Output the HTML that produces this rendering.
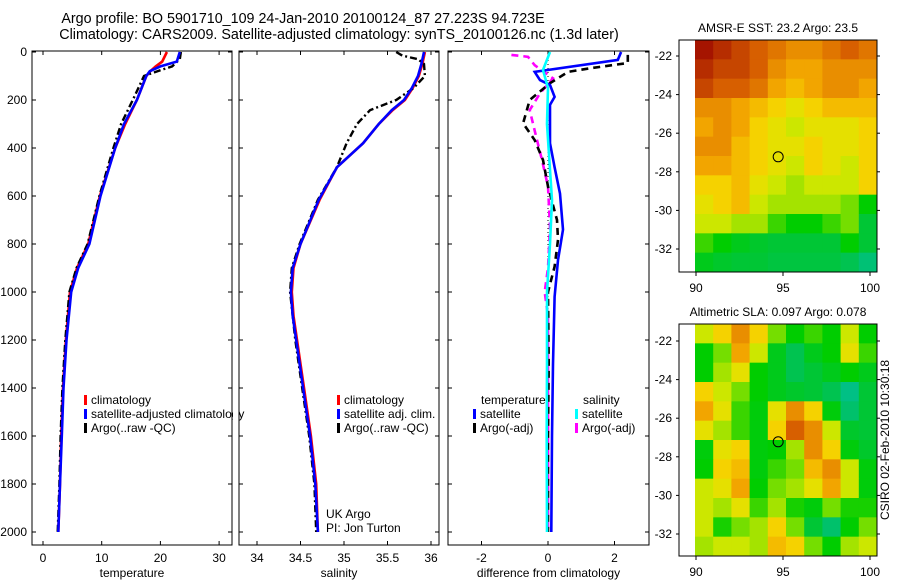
<!DOCTYPE html>
<html><head><meta charset="utf-8"><style>
body{margin:0;background:#fff;}
svg{display:block;font-family:"Liberation Sans",sans-serif;}
</style></head><body>
<svg id="c" width="900" height="580" viewBox="0 0 900 580">
<text x="303" y="23" font-size="14.3" text-anchor="middle">Argo profile: BO 5901710_109 24-Jan-2010 20100124_87 27.223S 94.723E</text>
<text x="339" y="39" font-size="14.3" text-anchor="middle">Climatology: CARS2009. Satellite-adjusted climatology: synTS_20100126.nc (1.3d later)</text>
<text transform="translate(889,440) rotate(-90)" font-size="12" text-anchor="middle">CSIRO 02-Feb-2010 10:30:18</text>
</svg>
<script>
// ---- data ----
const depthTicks=[0,200,400,600,800,1000,1200,1400,1600,1800,2000];
const tempTicks=[0,10,20,30];
const salTicks=[34,34.5,35,35.5,36];
const diffTicks=[-2,0,2];
const latTicks=[-22,-24,-26,-28,-30,-32];
const lonTicks=[90,95,100];

const tClimDepth=[0,40,60,80,100,150,200,300,400,600,800,900,1000,1200,1400,1600,1800,2000];
const tClim=[21.1,20.3,19.2,18.3,17.6,16.8,16,14,12.3,9.7,7.7,5.8,4.6,3.9,3.4,3.1,2.9,2.6];
const tSatDepth=[0,40,60,80,100,150,200,300,400,600,800,900,1000,1200,1400,1600,1800,2000];
const tSat=[23.3,22.8,20,18.2,17.6,16.8,16,13.8,12.3,9.8,7.9,6,4.8,4,3.5,3.2,2.9,2.6];
const tArgoDepth=[0,30,60,80,100,200,300,400,600,800,900,1000,1200,1400,1600,1800,2000];
const tArgo=[23.5,23.3,22,19.5,17.2,15.3,13.3,12,9.6,7.6,5.7,4.5,3.8,3.3,3.0,2.8,2.5];

const sClimDepth=[0,50,100,150,200,242,300,380,480,616,800,900,1000,1100,1200,1400,1600,1800,2000];
const sClim=[35.93,35.9,35.86,35.79,35.7,35.56,35.4,35.22,34.92,34.72,34.5,34.42,34.4,34.42,34.46,34.54,34.62,34.68,34.7];
const sSat=[35.92,35.89,35.85,35.78,35.69,35.55,35.4,35.22,34.92,34.71,34.5,34.41,34.39,34.41,34.45,34.53,34.61,34.67,34.7];
const sArgoDepth=[0,15,30,50,100,150,200,242,300,380,479,616,800,900,1000,1200,1400,1600,1800,2000];
const sArgo=[35.6,35.67,35.85,35.92,35.93,35.8,35.6,35.3,35.15,35.03,34.92,34.7,34.49,34.4,34.38,34.44,34.52,34.6,34.66,34.68];

const dTSatDepth=[0,33,83,117,137,187,220,380,480,590,740,867,1020,1300,1600,2000];
const dTSat=[2.2,2.1,-0.4,-0.24,0.06,0.2,0.06,0.06,0.2,0.36,0.45,0.3,0.2,0.15,0.12,0.1];
const dTArgoDepth=[12,46,67,83,130,200,297,367,450,560,700,783,894,1000,1300,1600,2000];
const dTArgo=[2.4,2.4,1.3,0.6,0.06,-0.55,-0.75,-0.4,-0.15,0,0.27,0.3,0.2,0.0,0.02,0.0,0.0];
const dSArgoDepth=[12,20,55,110,172,242,367,450,560,730,900,1000,1100,1400,2000];
const dSArgo=[-1.1,-0.6,-0.4,0.15,-0.24,-0.55,-0.33,-0.18,0,0.06,0,-0.1,0,0,0];
const dSSatDepth=[0,75,150,300,617,800,1000,1300,1600,2000];
const dSSat=[0.06,-0.15,0,-0.03,0.12,0.06,-0.03,-0.03,-0.04,-0.03];

const sstGrid=[
[1,0.95,0.9,0.85,0.8,0.75,0.75,0.8,0.85,0.8],
[0.95,0.9,0.9,0.85,0.75,0.7,0.7,0.75,0.75,0.75],
[0.9,0.85,0.85,0.8,0.7,0.65,0.7,0.75,0.75,0.7],
[0.75,0.75,0.7,0.65,0.6,0.55,0.6,0.65,0.65,0.65],
[0.7,0.75,0.7,0.6,0.55,0.5,0.55,0.55,0.55,0.6],
[0.75,0.75,0.65,0.6,0.55,0.55,0.6,0.55,0.55,0.6],
[0.7,0.7,0.65,0.6,0.55,0.5,0.6,0.55,0.5,0.6],
[0.6,0.6,0.65,0.55,0.5,0.45,0.5,0.5,0.5,0.6],
[0.55,0.6,0.65,0.5,0.45,0.45,0.45,0.45,0.4,0.3],
[0.5,0.5,0.45,0.45,0.35,0.3,0.3,0.35,0.4,0.2],
[0.35,0.3,0.25,0.22,0.2,0.2,0.2,0.2,0.3,0.2],
[0.25,0.22,0.2,0.2,0.18,0.18,0.18,0.18,0.15,0.08]];
const slaGrid=[
[0.5,0.6,0.75,0.6,0.4,0.3,0.35,0.3,0.5,0.3],
[0.3,0.4,0.7,0.5,0.25,0.15,0.25,0.3,0.55,0.35],
[0.3,0.45,0.55,0.3,0.25,0.15,0.2,0.25,0.3,0.25],
[0.6,0.5,0.4,0.3,0.25,0.22,0.2,0.15,0.05,0.2],
[0.7,0.55,0.35,0.28,0.55,0.75,0.6,0.28,0.1,0.2],
[0.55,0.45,0.35,0.28,0.6,0.85,0.75,0.5,0.22,0.2],
[0.28,0.55,0.6,0.28,0.3,0.45,0.75,0.6,0.28,0.22],
[0.3,0.6,0.65,0.28,0.35,0.4,0.65,0.75,0.5,0.28],
[0.5,0.55,0.7,0.3,0.4,0.45,0.55,0.7,0.5,0.28],
[0.5,0.45,0.55,0.35,0.45,0.32,0.28,0.4,0.32,0.32],
[0.5,0.32,0.4,0.45,0.6,0.4,0.2,0.1,0.3,0.4],
[0.45,0.5,0.5,0.45,0.65,0.6,0.4,0.3,0.45,0.5]];
const argoLon=94.723, argoLat=-27.223;

// ---- helpers ----
const svg=document.getElementById('c');
const NS='http://www.w3.org/2000/svg';
function mk(tag,at,parent){const e=document.createElementNS(NS,tag);for(const k in at)e.setAttribute(k,at[k]);(parent||svg).appendChild(e);return e;}
function txt(x,y,s,anchor,size){const t=mk('text',{x:x,y:y,'font-size':size||12,'text-anchor':anchor||'start'});t.textContent=s;return t;}
const yD=d=>52+d*0.24;

function panel(name,x0,x1,xfn,xt,xlabel,showY){
  const g=mk('g',{});
  
  
  const r=mk('rect',{x:x0,y:51,width:x1-x0,height:494,fill:'none',stroke:'#000','stroke-width':1},g);
  
  
  xt.forEach(v=>{const x=xfn(v);mk('line',{x1:x,x2:x,y1:545,y2:541,stroke:'#000'},g);mk('line',{x1:x,x2:x,y1:51,y2:55,stroke:'#000'},g);
    const t=txt(x,562,String(v),'middle');
    
    });
  depthTicks.forEach(d=>{const y=yD(d);mk('line',{x1:x0,x2:x0+4,y1:y,y2:y,stroke:'#000'},g);mk('line',{x1:x1,x2:x1-4,y1:y,y2:y,stroke:'#000'},g);
    if(showY){const t=txt(27,y+4,String(d),'end');
    
    }});
  const l=txt((x0+x1)/2,577,xlabel,'middle');
  
  
  return g;
}
function line(g,xfn,depths,vals,color,dash,w,name){
  const pts=depths.map((d,i)=>xfn(vals[i]).toFixed(1)+','+yD(d).toFixed(1)).join(' ');
  const p=mk('polyline',{points:pts,fill:'none',stroke:color,'stroke-width':w||2.6,'stroke-dasharray':dash||'none'},g);
  
  
}
function legend(g,x,y,color,label,name){
  mk('rect',{x:x,y:y-9,width:3,height:10,fill:color},g);
  const t=txt(x+7,y,label,'start');
  
  
}

// panel 1 temperature
const xT=v=>43+v*5.87;
const g1=panel('temperature-panel',32,232,xT,tempTicks,'temperature',true);
line(g1,xT,tClimDepth,tClim,'#f00',null,2.6,'climatology-temp-line');
line(g1,xT,tArgoDepth,tArgo,'#000','7,3,2,3',2.4,'argo-temp-line');
line(g1,xT,tSatDepth,tSat,'#00f',null,2.6,'satellite-temp-line');
legend(g1,84,404,'#f00','climatology','legend-climatology');
legend(g1,84,418,'#00f','satellite-adjusted climatology','legend-satellite');
legend(g1,84,432,'#000','Argo(..raw -QC)','legend-argo');
mk('rect',{x:233,y:395,width:6,height:30,fill:'#fff'});

// panel 2 salinity
const xS=v=>257+(v-34)*87;
const g2=panel('salinity-panel',239,439,xS,salTicks,'salinity',false);
line(g2,xS,sClimDepth,sClim,'#f00',null,2.6,'climatology-sal-line');
line(g2,xS,sArgoDepth,sArgo,'#000','7,3,2,3',2.4,'argo-sal-line');
line(g2,xS,sClimDepth,sSat,'#00f',null,2.6,'satellite-sal-line');
legend(g2,337,404,'#f00','climatology','legend-climatology');
legend(g2,337,418,'#00f','satellite adj. clim.','legend-satellite');
legend(g2,337,432,'#000','Argo(..raw -QC)','legend-argo');
txt(326,518,'UK Argo');
txt(326,532,'PI: Jon Turton');

// panel 3 difference
const xDf=v=>548+v*33.25;
const g3=panel('difference-panel',448,649,xDf,diffTicks,'difference from climatology',false);
const z=mk('line',{x1:xDf(0),x2:xDf(0),y1:yD(0),y2:yD(2000),stroke:'#000','stroke-dasharray':'1,3'},g3);

line(g3,xDf,dSArgoDepth,dSArgo,'#f0f','7,5',2.6,'argo-sal-diff-line');
line(g3,xDf,dTArgoDepth,dTArgo,'#000','7,5',2.6,'argo-temp-diff-line');
line(g3,xDf,dTSatDepth,dTSat,'#00f',null,2.6,'satellite-temp-diff-line');
line(g3,xDf,dSSatDepth,dSSat,'#0ff',null,2.6,'satellite-sal-diff-line');
txt(481,404,'temperature');
txt(583,404,'salinity');
legend(g3,473,418,'#00f','satellite','legend-temp-satellite');
legend(g3,473,432,'#000','Argo(-adj)','legend-temp-argo');
legend(g3,575,418,'#0ff','satellite','legend-sal-satellite');
legend(g3,575,432,'#f0f','Argo(-adj)','legend-sal-argo');

// maps
const stops=[[0,[0,190,160]],[0.15,[0,195,80]],[0.3,[0,205,0]],[0.42,[140,225,0]],[0.52,[220,232,0]],[0.6,[245,210,0]],[0.7,[242,165,0]],[0.85,[215,95,0]],[1,[165,20,0]]];
function cmap(v){for(let i=1;i<stops.length;i++){if(v<=stops[i][0]){const a=stops[i-1],b=stops[i],t=(v-a[0])/(b[0]-a[0]);return 'rgb('+a[1].map((c,k)=>Math.round(c+(b[1][k]-c)*t)).join(',')+')';}}return 'rgb(165,20,0)';}
function mapPanel(name,top,grid,lat0y,title){
  const xL=v=>696+(v-90)*17.4;
  const yL=v=>lat0y+(-22-v)*19.3;
  const g=mk('g',{});
  
  
  const tt=txt(778,top-8,title,'middle');
  
  
  const rows=grid.length,cols=grid[0].length;
  const gx0=695,gx1=877,gy0=top,gy1=top+232;
  const cw=(gx1-gx0)/cols,ch=(gy1-gy0)/rows;
  grid.forEach((row,r)=>row.forEach((v,c)=>{
    const cell=mk('rect',{x:gx0+c*cw,y:gy0+r*ch,width:cw+0.5,height:ch+0.5,fill:cmap(v)},g);
    
    
  }));
  mk('rect',{x:679,y:top,width:198,height:232,fill:'none',stroke:'#000'},g);
  latTicks.forEach(v=>{const y=yL(v);mk('line',{x1:679,x2:676,y1:y,y2:y,stroke:'#000'},g);mk('line',{x1:877,x2:880,y1:y,y2:y,stroke:'#000'},g);
    const t=txt(672,y+4,String(v),'end');
    
    });
  lonTicks.forEach(v=>{const x=xL(v);mk('line',{x1:x,x2:x,y1:top+232,y2:top+236,stroke:'#000'},g);
    const t=txt(x,top+252,String(v),'middle');
    
    });
  const m=mk('circle',{cx:xL(argoLon),cy:yL(argoLat),r:5,fill:'none',stroke:'#000'},g);
  
  
}
mapPanel('sst-map',40,sstGrid,56,'AMSR-E SST: 23.2 Argo: 23.5');
mapPanel('sla-map',324,slaGrid,341,'Altimetric SLA: 0.097 Argo: 0.078');
</script>
</body></html>
